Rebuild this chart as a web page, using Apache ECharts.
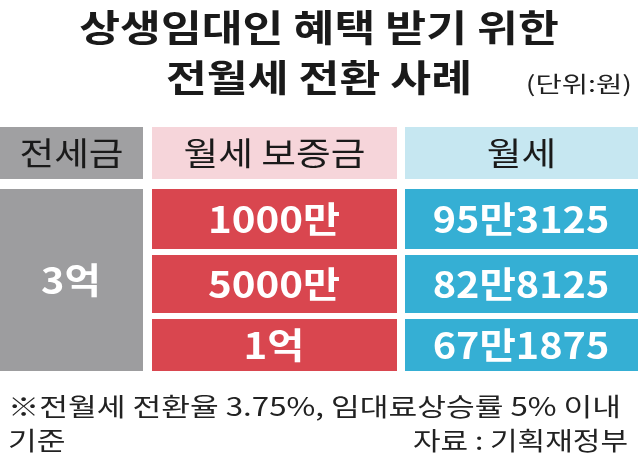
<!DOCTYPE html><html><head><meta charset="utf-8"><script src="https://cdn.jsdelivr.net/npm/echarts@6/dist/echarts.min.js"></script>
<style>html,body{margin:0;padding:0;background:#fff}#c{width:638px;height:467px}</style></head><body><div id="c"></div>
<script>
const titleLines=['상생임대인 혜택 받기 위한','전월세 전환 사례'];
const unit='(단위:원)';
const headers=['전세금','월세 보증금','월세'];
const jeonse='3억';
const deposits=['1000만','5000만','1억'];
const rents=['95만3125','82만8125','67만1875'];
const note1='※전월세 전환율 3.75%, 임대료상승률 5% 이내';
const note2='기준';
const source='자료 : 기획재정부';
const F='"Noto Sans CJK KR"';
const cols=[[0,143],[152,397],[405,638]];
const headBg=['#a0a0a2','#f6d5da','#c6e7f1'];
const rowY=[[189,249],[255,313],[319,371]];
const g=[];
function T(text,x,y,font,fill,align,sx){
 g.push({type:'text',x:x,y:y,scaleX:sx,style:{text:text,x:0,y:0,align:align||'left',verticalAlign:'middle',font:font,fill:fill}});
}
T(titleLines[0],319,28,'bold 37px '+F,'#1a1a1a','center',1.2);
T(titleLines[1],319,78,'bold 37px '+F,'#1a1a1a','center',1.2);
T(unit,632,84,'22px '+F,'#222','right',1.3);
headers.forEach((h,i)=>{
 g.push({type:'rect',shape:{x:cols[i][0],y:127,width:cols[i][1]-cols[i][0],height:52},style:{fill:headBg[i]}});
 T(h,(cols[i][0]+cols[i][1])/2,153,'32px '+F,'#1a1a1a','center',1.18);
});
g.push({type:'rect',shape:{x:0,y:189,width:143,height:182},style:{fill:'#9d9d9f'}});
T(jeonse,71,280,'bold 36px '+F,'#fff','center',1.1);
deposits.forEach((d,i)=>{
 const [y0,y1]=rowY[i];
 g.push({type:'rect',shape:{x:152,y:y0,width:245,height:y1-y0},style:{fill:'#d9464f'}});
 T(d,274,(y0+y1)/2,'bold 36px '+F,'#fff','center',1.12);
 g.push({type:'rect',shape:{x:405,y:y0,width:233,height:y1-y0},style:{fill:'#35afd4'}});
 T(rents[i],521,(y0+y1)/2,'bold 36px '+F,'#fff','center',1.1);
});
T(note1,8,406,'25px '+F,'#222','left',1.25);
T(note2,8,440,'25px '+F,'#222','left',1.25);
T(source,628,440,'25px '+F,'#222','right',1.2);
echarts.init(document.getElementById('c')).setOption({animation:false,graphic:g});
</script></body></html>
